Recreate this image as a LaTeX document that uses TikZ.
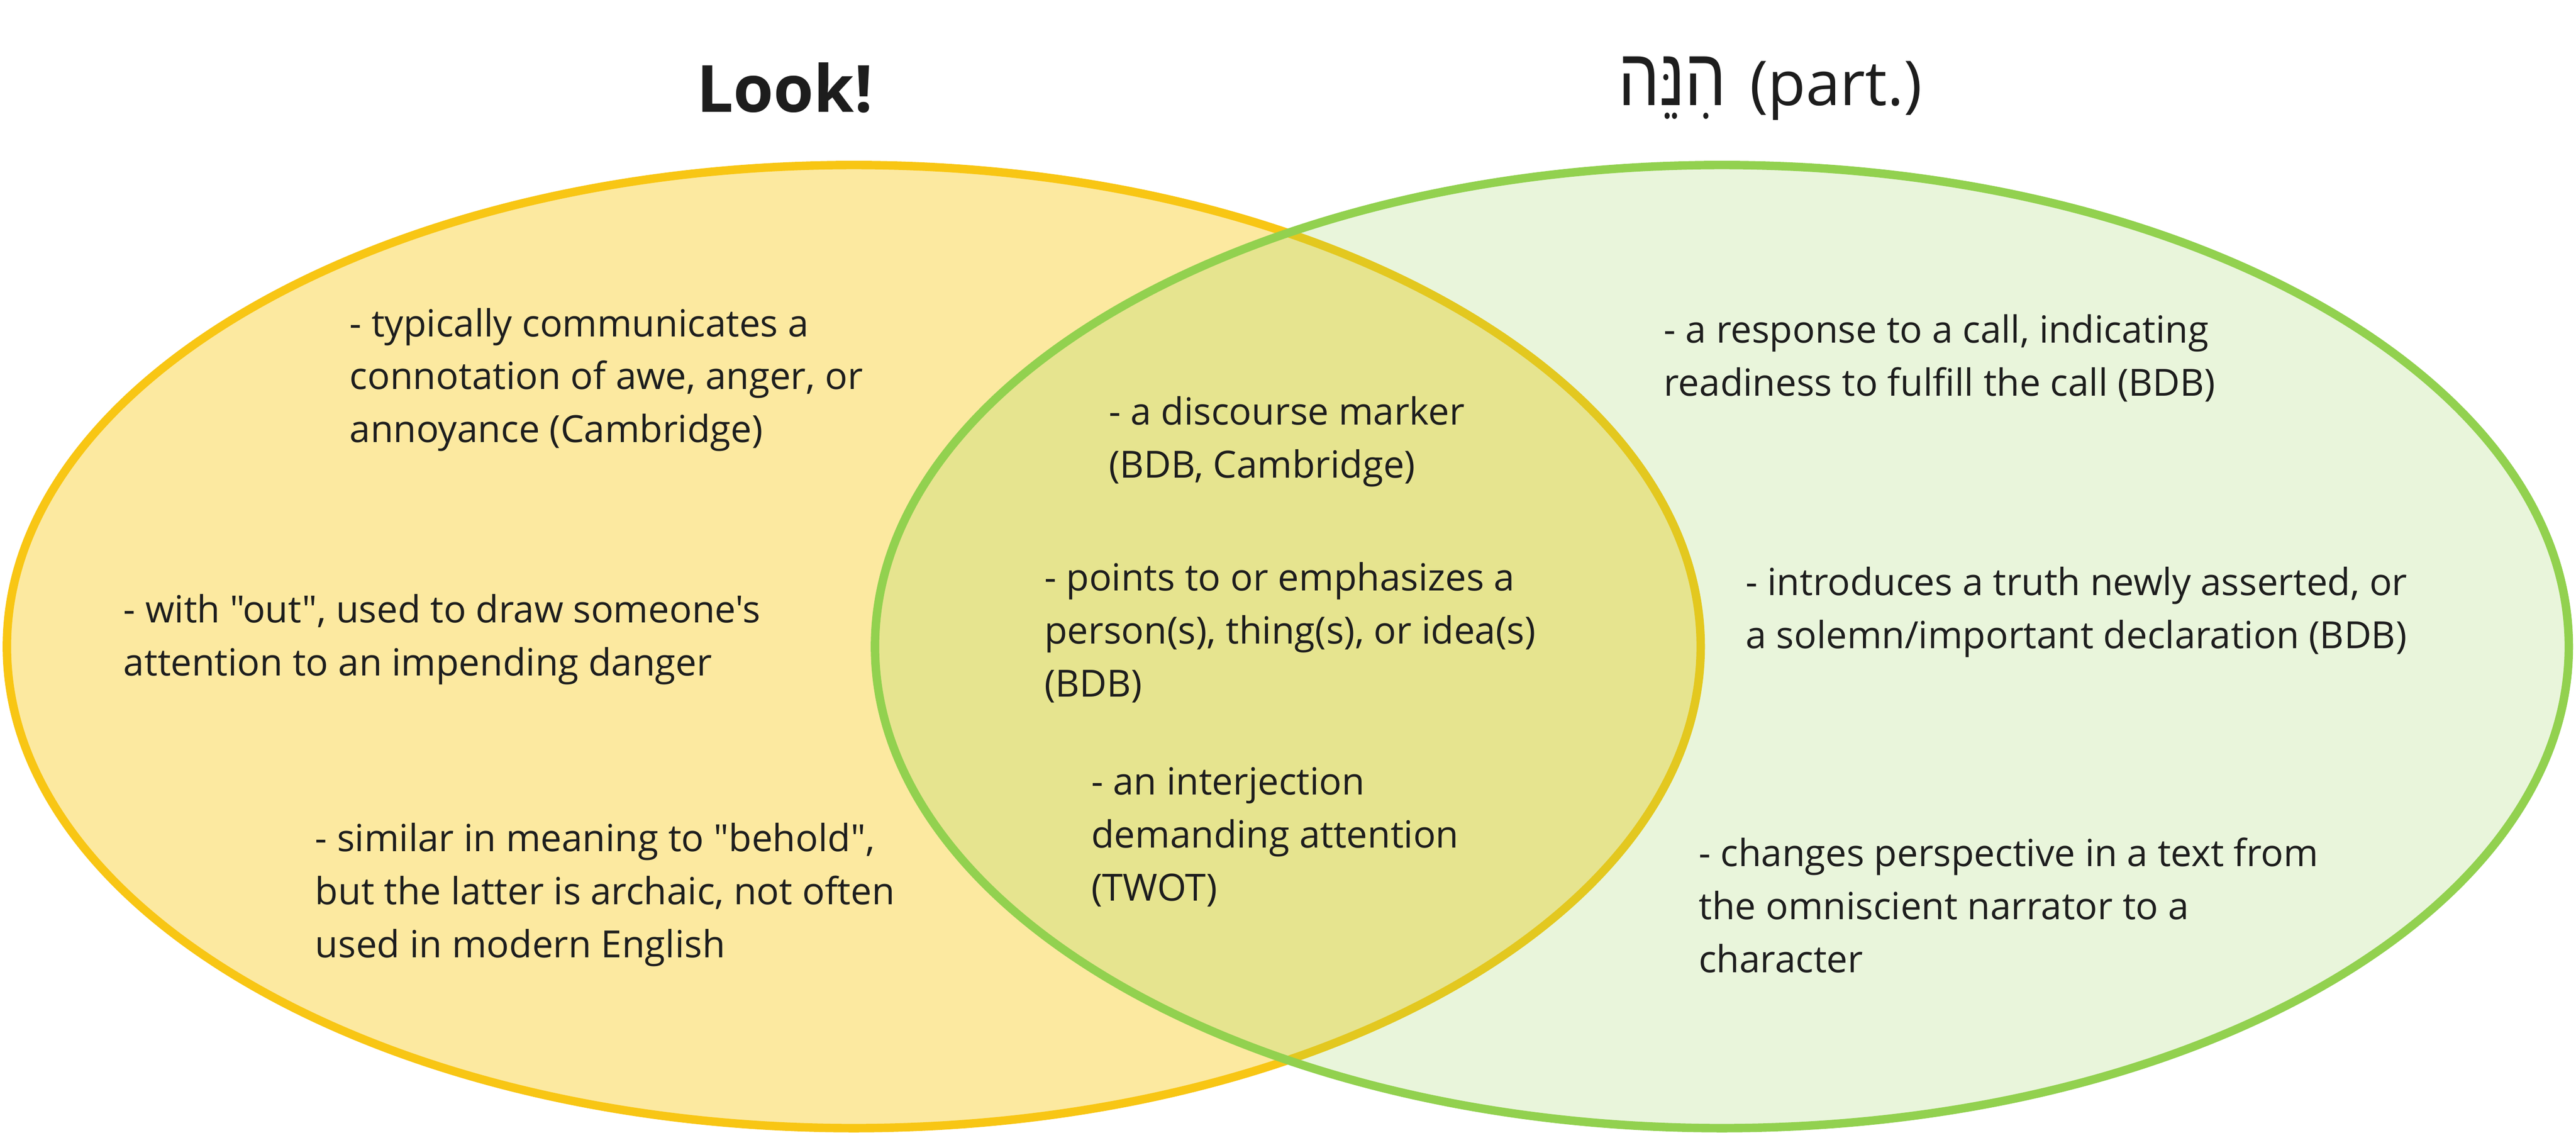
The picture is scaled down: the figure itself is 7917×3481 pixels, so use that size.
\documentclass[tikz,border=0pt]{standalone}
\usepackage{fontspec}
\setmainfont{Open Sans}[Ligatures=TeXOff]
\newfontfamily\hebfont[Script=Hebrew,FakeStretch=0.8]{Liberation Sans}
\TeXXeTstate=1
\definecolor{ystroke}{HTML}{F8C614}
\definecolor{yfill}{HTML}{FCE9A0}
\definecolor{gstroke}{HTML}{92D14F}
\definecolor{txtc}{HTML}{1D1D1D}
\newcommand\blk[1]{\vtop{\baselineskip=16.3pt #1}}
\tikzset{
  txt/.style={anchor=base west, inner sep=0pt, text=txtc, font=\fontsize{11.5pt}{16.3pt}\selectfont},
  ttl/.style={inner sep=0pt, text=txtc},
  venn/.style={line width=2.6pt}
}
\begin{document}
\begin{tikzpicture}[x=0.1pt,y=-0.1pt]
\fill[white] (0,0) rectangle (7917,3481);
\useasboundingbox (0,0) rectangle (7917,3481);
% circles
\path[venn, draw=ystroke, fill=yfill] (2624,1987) ellipse [x radius=260.3pt, y radius=148pt];
\path[venn, fill=gstroke, fill opacity=0.2] (5292,1987) ellipse [x radius=260.3pt, y radius=148pt];
\path[venn, draw=gstroke] (5292,1987) ellipse [x radius=260.3pt, y radius=148pt];
% titles
\node[ttl, anchor=base, font=\fontsize{20pt}{24pt}\selectfont\bfseries] (look) at (2412,345) {Look!};
\node[ttl, anchor=base west, font=\fontsize{19pt}{24pt}\selectfont] (hinneh) at (4972,324) {{\hebfont\fontsize{25pt}{28pt}\selectfont\beginR הִנֵּה\endR}\hspace{7.2pt}(part.)};
% left
\node[txt] (l1) at (1073,1034) {\blk{\hbox{- typically communicates a}\hbox{connotation of awe, anger, or}\hbox{annoyance (Cambridge)}}};
\node[txt] (l2) at (378,1913) {\blk{\hbox{- with "out", used to draw someone's}\hbox{attention to an impending danger}}};
\node[txt] (l3) at (967,2616) {\blk{\hbox{- similar in meaning to "behold",}\hbox{but the latter is archaic, not often}\hbox{used in modern English}}};
% centre
\node[txt] (c1) at (3406,1305) {\blk{\hbox{- a discourse marker}\hbox{(BDB, Cambridge)}}};
\node[txt] (c2) at (3208,1816) {\blk{\hbox{- points to or emphasizes a}\hbox{person(s), thing(s), or idea(s)}\hbox{(BDB)}}};
\node[txt] (c3) at (3352,2443) {\blk{\hbox{- an interjection}\hbox{demanding attention}\hbox{(TWOT)}}};
% right
\node[txt] (r1) at (5112,1054) {\blk{\hbox{- a response to a call, indicating}\hbox{readiness to fulfill the call (BDB)}}};
\node[txt] (r2) at (5363,1829) {\blk{\hbox{- introduces a truth newly asserted, or}\hbox{a solemn/important declaration (BDB)}}};
\node[txt] (r3) at (5219,2662) {\blk{\hbox{- changes perspective in a text from}\hbox{the omniscient narrator to a}\hbox{character}}};
\end{tikzpicture}
\end{document}
